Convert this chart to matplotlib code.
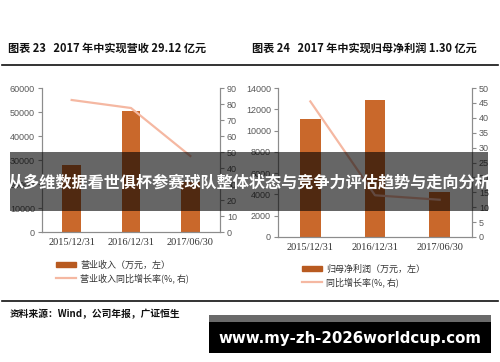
import matplotlib
matplotlib.use('Agg')
import matplotlib.pyplot as plt
from matplotlib.patches import Rectangle
from matplotlib.lines import Line2D

plt.rcParams['font.family'] = ['Noto Sans CJK SC', 'DejaVu Sans']

dates = ['2015/12/31', '2016/12/31', '2017/06/30']
revenue = [28000, 50500, 20800]
revenue_growth = [82.5, 77.5, 47.5]
profit = [11100, 12900, 4200]
profit_growth = [45.5, 14, 12.5]

bar_color = '#C9682B'
line_color = '#F5B8A2'
axis_color = '#8C8C8C'
tick_color = '#595959'

W, H = 500, 362
fig = plt.figure(figsize=(W / 100, H / 100), dpi=100)


def px_box(x0, y0, x1, y1):
    # pixel box (top-left origin) -> figure fraction rect
    return [x0 / W, 1 - y1 / H, (x1 - x0) / W, (y1 - y0) / H]


def style_pair(ax, ax2):
    for a in (ax, ax2):
        a.spines['top'].set_visible(False)
        for s in ('left', 'right', 'bottom'):
            a.spines[s].set_color(axis_color)
            a.spines[s].set_linewidth(0.8)
        a.tick_params(axis='y', labelsize=6.5, colors=axis_color, labelcolor=tick_color,
                      length=3, width=0.8, direction='out', pad=2)
        a.set_facecolor('none')
    ax.tick_params(axis='x', length=0, pad=4)
    for lab in ax.get_yticklabels() + ax2.get_yticklabels():
        lab.set_family('Liberation Sans')
    for lab in ax.get_xticklabels():
        lab.set_family('Liberation Serif')
        lab.set_fontsize(7.5)
        lab.set_color('#333333')


def draw_panel(rect, bars, growth, ymax, ystep, y2max, y2step, labels, legend_pos):
    ax = fig.add_axes(rect)
    x = list(range(len(dates)))
    ax.bar(x, bars, width=0.32, color=bar_color, zorder=2)
    ax.set_xlim(-0.5, 2.5)
    ax.set_ylim(0, ymax)
    ax.set_yticks(range(0, ymax + 1, ystep))
    ax.set_xticks(x)
    ax.set_xticklabels(dates)
    ax2 = ax.twinx()
    ax2.plot(x, growth, color=line_color, lw=1.6, zorder=3)
    ax2.set_ylim(0, y2max)
    ax2.set_yticks(range(0, y2max + 1, y2step))
    style_pair(ax, ax2)
    handles = [Rectangle((0, 0), 1, 1, color='#B85A20'),
               Line2D([0], [0], color=line_color, lw=1.6)]
    fig.legend(handles, labels, loc='upper left', bbox_to_anchor=legend_pos,
               frameon=False, fontsize=6.5, handlelength=2.2, handleheight=0.5,
               labelspacing=0.45, handletextpad=0.5, labelcolor='#333333')
    return ax, ax2


draw_panel(px_box(42, 88, 220, 232), revenue, revenue_growth, 60000, 10000, 90, 10,
           ['营业收入（万元，左）', '营业收入同比增长率(%, 右)'], (48 / W, 1 - 252 / H))
draw_panel(px_box(278, 88, 472, 237), profit, profit_growth, 14000, 2000, 50, 5,
           ['归母净利润（万元，左）', '同比增长率(%, 右)'], (294 / W, 1 - 256 / H))

# titles and rules
fig.text(8 / W, 1 - 48 / H, '图表 23   2017 年中实现营收 29.12 亿元', fontsize=8,
         fontweight='bold', va='center', ha='left', color='#111111')
fig.text(252 / W, 1 - 48 / H, '图表 24   2017 年中实现归母净利润 1.30 亿元', fontsize=8,
         fontweight='bold', va='center', ha='left', color='#111111')
fig.add_artist(Line2D([2 / W, 498 / W], [1 - 65 / H, 1 - 65 / H], color='#111111', lw=1.2))
fig.add_artist(Line2D([2 / W, 498 / W], [1 - 301 / H, 1 - 301 / H], color='#111111', lw=1.2))
fig.text(10 / W, 1 - 314 / H, '资料来源：Wind，公司年报，广证恒生', fontsize=7,
         fontweight='bold', va='center', ha='left', color='#111111')

# overlay banner
fig.add_artist(Rectangle((10 / W, 1 - 211 / H), 478 / W, 59 / H, transform=fig.transFigure,
                         facecolor='black', alpha=0.6, edgecolor='none', zorder=5))
fig.text(250 / W, 1 - 183 / H, '从多维数据看世俱杯参赛球队整体状态与竞争力评估趋势与走向分析',
         fontsize=11.6, fontweight='bold', color='white', ha='center', va='center', zorder=6)

# watermark box
fig.add_artist(Rectangle((209 / W, 1 - 353 / H), 282 / W, 38 / H, transform=fig.transFigure,
                         facecolor='black', edgecolor='none', zorder=5))
fig.add_artist(Rectangle((209 / W, 1 - 322 / H), 282 / W, 7 / H, transform=fig.transFigure,
                         facecolor='#6a6a6a', edgecolor='none', zorder=5))
fig.text(350 / W, 1 - 338 / H, 'www.my-zh-2026worldcup.com', fontsize=10.8, fontweight='bold',
         family='DejaVu Sans', color='white', ha='center', va='center', zorder=6)

fig.savefig('out.png', dpi=100)
